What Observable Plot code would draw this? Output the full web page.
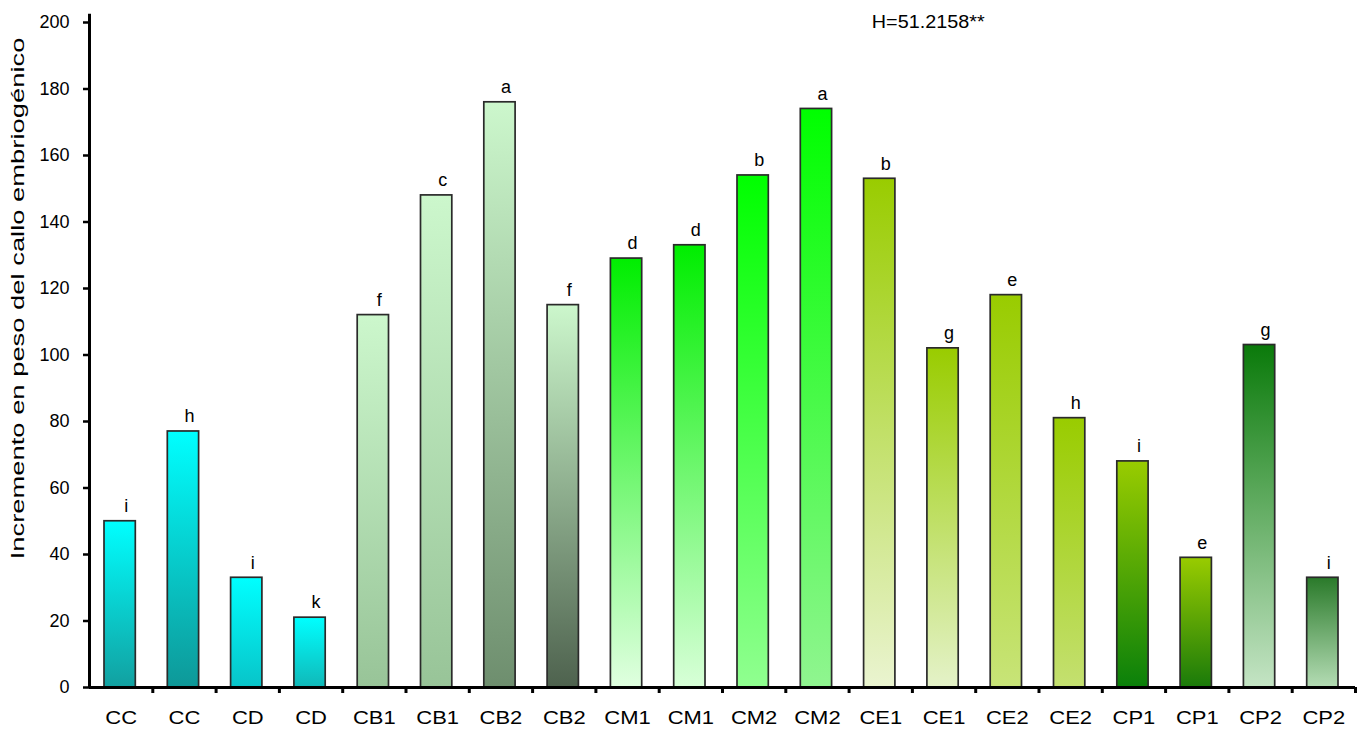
<!DOCTYPE html>
<html>
<head>
<meta charset="utf-8">
<script src="https://cdn.jsdelivr.net/npm/d3@7"></script>
<script src="https://cdn.jsdelivr.net/npm/@observablehq/plot@0.6"></script>
<style>
  html, body { margin: 0; padding: 0; background: #fff; }
  #chart svg { display: block; font-family: "Liberation Sans", Arial, sans-serif; }
</style>
</head>
<body>
<div id="chart"></div>
<script>
// ---- data ----
const categories = ["CC","CC","CD","CD","CB1","CB1","CB2","CB2","CM1","CM1","CM2","CM2","CE1","CE1","CE2","CE2","CP1","CP1","CP2","CP2"];
const values = [50, 77, 33, 21, 112, 148, 176, 115, 129, 133, 154, 174, 153, 102, 118, 81, 68, 39, 103, 33];
const letters = ["i","h","i","k","f","c","a","f","d","d","b","a","b","g","e","h","i","e","g","i"];
const yTicks = [0, 20, 40, 60, 80, 100, 120, 140, 160, 180, 200];
const statText = "H=51.2158**";
const yLabel = "Incremento en peso del callo embriogénico";

// ---- styles: gradient stops per bar (top, bottom) ----
const gradTop = ["#00ffff","#00ffff","#00ffff","#00ffff","#ccf7cc","#ccf7cc","#ccf7cc","#ccf7cc","#00ee00","#00ee00","#00ff00","#00ff00","#99cc00","#99cc00","#99cc00","#99cc00","#99cc00","#99cc00","#0a7a0a","#2a7a2a"];
const gradBottom = ["#12a0a0","#0e9898","#08c4c8","#10b8b8","#98c498","#98c498","#6e8e6e","#4e624e","#e0ffe0","#d8ffd8","#90ff90","#90f590","#eaf4d0","#e4f2c8","#c8e478","#c4e070","#0a800a","#1a7a0a","#c4e4c4","#b4dcb4"];

const data = categories.map((c, i) => ({i, c, v: values[i], l: letters[i]}));

const chart = Plot.plot({
  width: 1363,
  height: 729,
  marginLeft: 89,
  marginRight: 8,
  marginTop: 22,
  marginBottom: 42,
  style: {fontFamily: "'Liberation Sans', Arial, sans-serif", background: "#fff"},
  x: {type: "linear", domain: [0, categories.length], axis: null},
  y: {type: "linear", domain: [0, 200], axis: null},
  color: {type: "identity"},
  marks: [
    Plot.rectY(data, {
      x1: d => d.i, x2: d => d.i + 1, y1: 0, y2: "v",
      insetLeft: 15, insetRight: 17,
      fill: d => `url(#g${d.i})`,
      stroke: "#2a2a2a", strokeWidth: 1.7
    }),
    // y axis ticks and labels
    Plot.axisY(yTicks, {
      anchor: "left", tickSize: 6, tickPadding: 14, fontSize: 18,
      stroke: "#000", strokeWidth: 2.5, label: null, tickFormat: d => String(d)
    }),
    // x axis ticks at category boundaries
    Plot.axisX(d3.range(1, categories.length + 1), {
      anchor: "bottom", tickSize: 6, tickFormat: () => "",
      stroke: "#000", strokeWidth: 3, label: null
    }),
    // axis lines
    Plot.ruleX([0], {y1: 0, y2: 202.5, stroke: "#000", strokeWidth: 3}),
    Plot.ruleY([0], {x1: 0, x2: categories.length, stroke: "#000", strokeWidth: 3}),
    // category labels
    Plot.text(data, {x: d => d.i + 0.5, y: 0, text: "c", dy: 31, fontSize: 18, fill: "#000"}),
    // letters above bars
    Plot.text(data, {x: d => d.i + 0.5, y: "v", text: "l", dx: 5, dy: -15, fontSize: 18, fill: "#000"}),
    // statistic annotation
    Plot.text([statText], {x: 13.25, y: 200, text: d => d, fontSize: 18, fill: "#000"}),
    // y label
    Plot.text([yLabel], {x: 0, y: 117, text: d => d, rotate: -90, dx: -71, fontSize: 18, fill: "#000"})
  ]
});

// gradient defs
const svg = d3.select(chart);
const defs = svg.insert("defs", ":first-child");
data.forEach(d => {
  const g = defs.append("linearGradient").attr("id", `g${d.i}`)
    .attr("x1", 0).attr("y1", 0).attr("x2", 0).attr("y2", 1);
  g.append("stop").attr("offset", "0%").attr("stop-color", gradTop[d.i]);
  g.append("stop").attr("offset", "100%").attr("stop-color", gradBottom[d.i]);
});

document.getElementById("chart").appendChild(chart);

// widen text to match the reference's wide lettering
const catSet = new Set(categories);
svg.selectAll("text").each(function () {
  const t = this.textContent;
  let k = 0;
  if (catSet.has(t)) k = 1.22;
  else if (t === statText) k = 1.1;
  else if (t === yLabel) k = 1.52;
  if (k) {
    const w = this.getComputedTextLength();
    if (w > 0) d3.select(this).attr("textLength", w * k).attr("lengthAdjust", "spacingAndGlyphs");
  }
});
</script>
</body>
</html>
